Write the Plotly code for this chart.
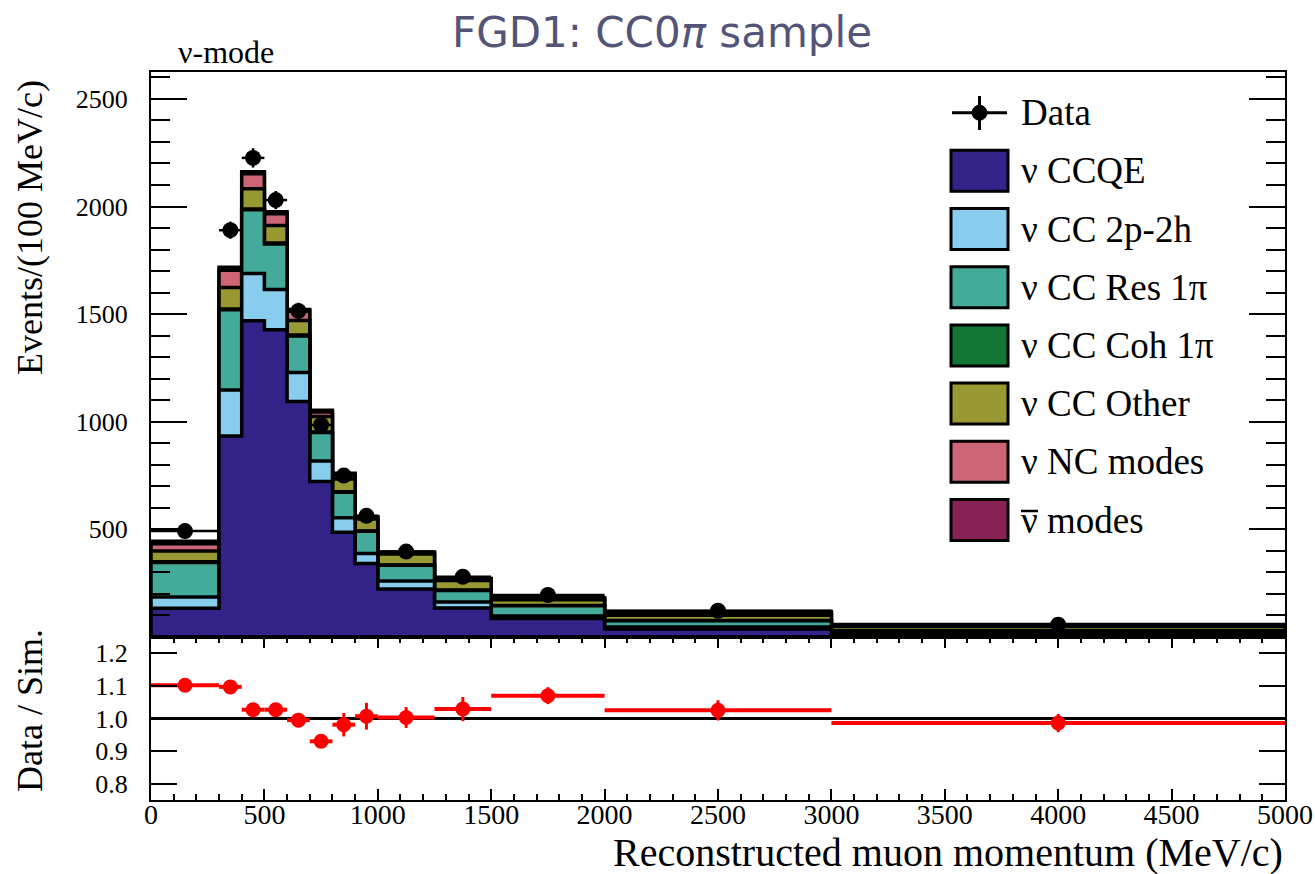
import numpy as np
import plotly.graph_objects as go

# ---------------- data ----------------
bin_edges = [0, 300, 400, 500, 600, 700, 800, 900, 1000, 1250, 1500, 2000, 3000, 5000]

component_names = ["ν CCQE", "ν CC 2p-2h", "ν CC Res 1π", "ν CC Coh 1π",
                   "ν CC Other", "ν NC modes", "ν modes"]
component_colors = ["#332288", "#88CCEE", "#44AA99", "#117733",
                    "#999933", "#CC6677", "#882255"]

nu_ccqe = [133, 934, 1469, 1427, 1094, 722, 487, 342, 223, 135, 86, 37, 12]
nu_cc2p2h = [53, 214, 220, 187, 135, 96, 67, 46, 37, 28, 11, 9, 3]
nu_ccres = [160, 372, 296, 212, 170, 132, 118, 103, 73, 53, 48, 30, 14]
nu_cccoh = [4, 4, 4, 4, 4, 3, 3, 2, 2, 2, 1, 1, 1]
nu_ccother = [50, 100, 93, 82, 68, 72, 59, 55, 51, 45, 27, 24, 20]
nu_nc = [33, 80, 70, 54, 42, 20, 20, 8, 6, 6, 6, 12, 5]
antinu = [12, 14, 10, 10, 8, 8, 7, 4, 3, 3, 3, 6, 3]

data_x = [150, 350, 450, 550, 650, 750, 850, 950, 1125, 1375, 1750, 2500, 4000]
data_y = [492, 1890, 2226, 2030, 1515, 985, 750, 563, 397, 280, 195, 122, 57]
data_err = [14, 40, 45, 42, 38, 30, 26, 22, 12, 10, 6, 4, 2]

ratio_y = [1.102, 1.097, 1.027, 1.027, 0.995, 0.930, 0.981, 1.007, 1.003, 1.029, 1.070, 1.025, 0.986]
ratio_err = [0.010, 0.015, 0.015, 0.016, 0.018, 0.020, 0.036, 0.041, 0.032, 0.037, 0.026, 0.031, 0.028]

y_ticks_top = [0, 500, 1000, 1500, 2000, 2500]
y_ticks_ratio = [0.8, 0.9, 1.0, 1.1, 1.2]
x_ticks = [0, 500, 1000, 1500, 2000, 2500, 3000, 3500, 4000, 4500, 5000]

# ---------------- geometry helpers (pixel -> paper) ----------------
W, H = 1315, 874
ML, MR, MT, MB = 151, 30, 72, 74
PW, PH = W - ML - MR, H - MT - MB


def px(xp):
    return (xp - ML) / PW


def py(yp):
    return (H - MB - yp) / PH


SERIF = "Liberation Serif, Times New Roman, serif"

edges = np.array(bin_edges, dtype=float)
half_w = (edges[1:] - edges[:-1]) / 2.0
stack = np.cumsum(np.array([nu_ccqe, nu_cc2p2h, nu_ccres, nu_cccoh,
                            nu_ccother, nu_nc, antinu], dtype=float), axis=0)

fig = go.Figure()

# stacked histogram, drawn ROOT-style (top cumulative first)
for k in range(len(component_names) - 1, -1, -1):
    lvl = list(stack[k])
    xs = [edges[0]] + list(edges[:-1]) + [edges[-1], edges[-1]]
    ys = [0.0] + lvl + [lvl[-1], 0.0]
    fig.add_trace(go.Scatter(
        x=xs, y=ys, mode="lines",
        line=dict(color="black", width=3.5, shape="hv"),
        fill="tozeroy", fillcolor=component_colors[k],
        name=component_names[k], hoverinfo="skip",
        xaxis="x", yaxis="y"))

# data points
fig.add_trace(go.Scatter(
    x=data_x, y=data_y, mode="markers", name="Data",
    marker=dict(color="black", size=16),
    error_y=dict(type="data", array=data_err, color="black", thickness=2.5, width=0),
    error_x=dict(type="data", array=list(half_w), color="black", thickness=2.5, width=0),
    xaxis="x", yaxis="y"))

# ratio points
fig.add_trace(go.Scatter(
    x=data_x, y=ratio_y, mode="markers", name="Data / Sim.",
    marker=dict(color="#FF0000", size=15),
    error_y=dict(type="data", array=ratio_err, color="#FF0000", thickness=3, width=0),
    error_x=dict(type="data", array=list(half_w), color="#FF0000", thickness=4, width=0),
    xaxis="x2", yaxis="y2"))

# unity line in ratio panel
fig.add_shape(type="line", xref="x2 domain", yref="y2", x0=0, x1=1, y0=1.0, y1=1.0,
              line=dict(color="black", width=3), layer="below")

axis_common = dict(showline=True, linecolor="black", linewidth=2, showgrid=False,
                   zeroline=False, layer="above traces", tickcolor="black",
                   automargin=False)

fig.update_layout(
    width=W, height=H, autosize=False,
    margin=dict(l=ML, r=MR, t=MT, b=MB, autoexpand=False),
    paper_bgcolor="white", plot_bgcolor="white",
    showlegend=False,
    font=dict(family=SERIF, color="black"),
    xaxis=dict(domain=[0, 1], anchor="y", range=[0, 5000], showticklabels=False,
               ticks="", mirror=True, **axis_common),
    yaxis=dict(domain=[163 / PH, 1], anchor="x", range=[0, 2625],
               tickmode="array", tickvals=y_ticks_top,
               ticktext=["" if v == 0 else str(v) for v in y_ticks_top],
               ticks="inside", ticklen=36, tickwidth=2, mirror="ticks",
               minor=dict(tickmode="linear", tick0=0, dtick=100, ticks="inside",
                          ticklen=19, tickwidth=2, tickcolor="black"),
               tickfont=dict(family=SERIF, size=26), ticklabelstandoff=16,
               **axis_common),
    xaxis2=dict(domain=[0, 1], anchor="y2", range=[0, 5000],
                tickmode="array", tickvals=x_ticks, ticktext=[str(v) for v in x_ticks],
                ticks="inside", ticklen=11, tickwidth=2, mirror="ticks",
                minor=dict(tickmode="linear", tick0=0, dtick=100, ticks="inside",
                           ticklen=6, tickwidth=2, tickcolor="black"),
                tickfont=dict(family=SERIF, size=28), ticklabelstandoff=-12,
                **axis_common),
    yaxis2=dict(domain=[0, 163 / PH], anchor="x2", range=[0.75, 1.25],
                tickmode="array", tickvals=y_ticks_ratio,
                ticktext=[f"{v:.1f}" for v in y_ticks_ratio],
                ticks="inside", ticklen=26, tickwidth=2, mirror="ticks",
                tickfont=dict(family=SERIF, size=26), ticklabelstandoff=16,
                **axis_common),
)

annotations = []
# page title
annotations.append(dict(text="FGD1: CC0<i>π</i> sample", x=px(662), y=py(33),
                        xref="paper", yref="paper", showarrow=False,
                        xanchor="center", yanchor="middle",
                        font=dict(family="DejaVu Sans, Verdana, sans-serif", size=42,
                                  color="#545479")))
# nu-mode label
annotations.append(dict(text="ν-mode", x=px(176), y=py(52), xref="paper", yref="paper",
                        showarrow=False, xanchor="left", yanchor="middle",
                        font=dict(family=SERIF, size=32)))
# axis titles
annotations.append(dict(text="Events/(100 MeV/c)", x=px(30), y=py(228), xref="paper",
                        yref="paper", showarrow=False, textangle=-90,
                        xanchor="center", yanchor="middle",
                        font=dict(family=SERIF, size=36)))
annotations.append(dict(text="Data / Sim.", x=px(30), y=py(711), xref="paper",
                        yref="paper", showarrow=False, textangle=-90,
                        xanchor="center", yanchor="middle",
                        font=dict(family=SERIF, size=36)))
annotations.append(dict(text="Reconstructed muon momentum (MeV/c)", x=px(1285), y=py(852),
                        xref="paper", yref="paper", showarrow=False,
                        xanchor="right", yanchor="middle",
                        font=dict(family=SERIF, size=40)))

# manual ROOT-style legend
shapes = []
leg_x0, leg_x1 = 951, 1008
data_cy = 112.7
shapes.append(dict(type="line", xref="paper", yref="paper", x0=px(952), x1=px(1007),
                   y0=py(data_cy), y1=py(data_cy), line=dict(color="black", width=3)))
shapes.append(dict(type="line", xref="paper", yref="paper", x0=px(979.5), x1=px(979.5),
                   y0=py(96), y1=py(130), line=dict(color="black", width=3)))
shapes.append(dict(type="circle", xref="paper", yref="paper", x0=px(972), x1=px(987),
                   y0=py(data_cy + 7.5), y1=py(data_cy - 7.5),
                   fillcolor="black", line=dict(color="black", width=1)))
annotations.append(dict(text="Data", x=px(1019), y=py(data_cy), xref="paper", yref="paper",
                        showarrow=False, xanchor="left", yanchor="middle",
                        font=dict(family=SERIF, size=37)))
for i, (name, col) in enumerate(zip(component_names, component_colors)):
    cy = 170.8 + i * 58.2
    shapes.append(dict(type="rect", xref="paper", yref="paper",
                       x0=px(leg_x0), x1=px(leg_x1), y0=py(cy + 20.5), y1=py(cy - 20.5),
                       fillcolor=col, line=dict(color="black", width=3)))
    annotations.append(dict(text=name, x=px(1019), y=py(cy), xref="paper", yref="paper",
                            showarrow=False, xanchor="left", yanchor="middle",
                            font=dict(family=SERIF, size=37)))
    if i == len(component_names) - 1:
        # overbar of the anti-neutrino symbol
        shapes.append(dict(type="line", xref="paper", yref="paper",
                           x0=px(1021), x1=px(1038), y0=py(cy - 9), y1=py(cy - 9),
                           line=dict(color="black", width=2.5)))

fig.update_layout(annotations=annotations)
for s in shapes:
    fig.add_shape(**s)

fig.write_html("out.html",
               config={"displayModeBar": False},
               post_script="document.body.style.margin='0';"
                           "document.body.style.overflow='hidden';"
                           "document.documentElement.style.overflow='hidden';")
